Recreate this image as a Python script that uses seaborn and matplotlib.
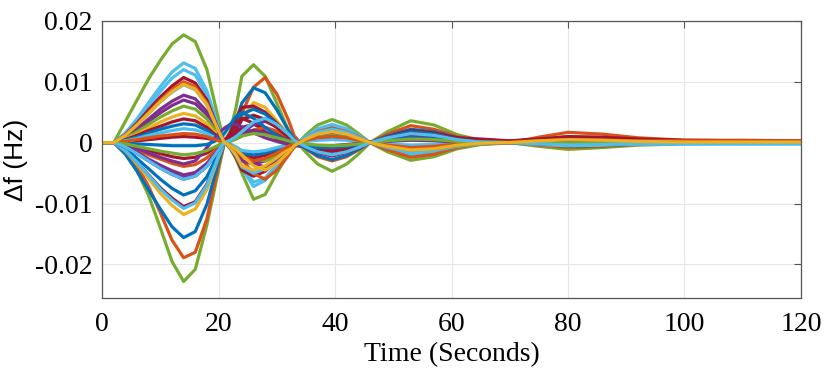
import numpy as np
import pandas as pd
import seaborn as sns
import matplotlib.pyplot as plt

# sample times (s) read along the time axis
t = [0, 2, 4, 6, 8, 10, 12, 14, 16, 18, 20, 21, 22, 23, 24, 26, 28, 30, 32, 33,
     35, 37, 39.5, 42, 44, 46, 49, 53, 57, 61, 65, 70, 75, 80, 86, 92, 100, 110, 120]

# frequency deviation of each bus, in units of 1e-4 Hz, read at the times above
dev01 = [0, 0, 35, 70, 105, 135, 162, 177, 166, 120, 38, 0, -10, -26, -50, -93, -85, -50, -18, -8,
         13, 29, 38, 29, 15, 0, -15, -29, -23, -10, -3, 0, 5, 10, 8, 4, 2, 2, 2]
dev02 = [0, 0, -14, -46, -87, -140, -195, -228, -208, -135, -45, 0, 19, 58, 109, 128, 109, 65, 20, 6,
         -16, -35, -47, -35, -19, 0, 18, 36, 29, 13, 4, 0, -6, -11, -8, -4, -2, -1, -1]
dev03 = [0, 0, -11, -38, -72, -115, -160, -189, -180, -125, -38, 0, 11, 27, 48, 91, 107, 80, 37, 11,
         -10, -23, -30, -23, -12, 0, 14, 28, 22, 10, 3, 0, -4, -8, -6, -3, -1, 0, 0]
dev04 = [0, 0, -19, -47, -78, -109, -138, -156, -146, -101, -31, 0, 12, 36, 65, 90, 82, 54, 20, 5,
         -10, -21, -28, -21, -11, 0, 11, 22, 18, 8, 2, 0, -3, -6, -5, -2, -1, 0, 0]
dev05 = [0, 0, 16, 39, 66, 92, 116, 131, 122, 85, 26, 0, -8, -22, -42, -72, -62, -38, -14, -4,
         10, 23, 30, 23, 12, 0, -10, -20, -16, -7, -2, 0, 3, 6, 5, 2, 0, -1, -1]
dev06 = [0, 0, 14, 36, 60, 84, 106, 120, 111, 78, 24, 0, -7, -20, -38, -65, -58, -36, -13, -3,
         9, 20, 26, 20, 10, 0, -9, -18, -14, -6, -2, 0, 3, 5, 4, 2, 0, 0, 0]
dev07 = [0, 0, 13, 32, 54, 75, 93, 107, 98, 70, 21, 0, -8, -25, -45, -55, -47, -30, -11, -3,
         7, 15, 20, 15, 8, 0, -8, -15, -12, -5, -2, 0, 3, 6, 5, 4, 3, 3, 3]
dev08 = [0, 0, 12, 30, 50, 70, 87, 100, 92, 65, 20, 0, -6, -15, -27, -51, -60, -45, -21, -6,
         8, 18, 24, 18, 10, 0, -12, -24, -19, -8, -2, 0, 9, 17, 14, 8, 4, 4, 3]
dev09 = [0, 0, 11, 29, 48, 67, 83, 95, 87, 62, 19, 0, -8, -22, -40, -50, -43, -28, -10, -3,
         8, 17, 22, 17, 9, 0, -8, -16, -13, -6, -2, 0, 2, 4, 3, 1, 0, -1, -1]
dev10 = [0, 0, -14, -35, -59, -83, -103, -118, -109, -77, -24, 0, 7, 20, 38, 66, 58, 36, 13, 3,
         -7, -15, -20, -15, -8, 0, 9, 18, 14, 6, 2, 0, -3, -5, -4, -2, -1, -1, -1]
dev11 = [0, 0, -13, -32, -53, -74, -91, -105, -97, -68, -21, 0, 16, 40, 58, 60, 50, 32, 12, 3,
         -8, -16, -22, -16, -9, 0, 10, 20, 16, 8, 6, 3, 6, 10, 9, 6, 4, 3, 3]
dev12 = [0, 0, -10, -26, -43, -60, -75, -86, -79, -56, -17, 0, 8, 25, 47, 55, 47, 30, 11, 3,
         -6, -14, -18, -14, -7, 0, 9, 18, 14, 6, 2, 0, 3, 5, 4, 2, 1, 1, 1]
dev13 = [0, 0, -13, -32, -54, -76, -94, -108, -99, -70, -22, 0, 7, 20, 38, 45, 38, 25, 9, 2,
         -5, -11, -15, -11, -6, 0, 5, 10, 8, 4, 1, 0, -2, -4, -3, -2, -2, -2, -2]
dev14 = [0, 0, 9, 23, 39, 55, 68, 78, 72, 51, 16, 0, -4, -10, -18, -34, -40, -30, -14, -4,
         4, 9, 12, 9, 5, 0, -5, -10, -8, -4, -1, 0, 2, 3, 2, 1, 1, 1, 1]
dev15 = [0, 0, 8, 21, 35, 49, 61, 70, 64, 46, 14, 0, -5, -16, -30, -35, -30, -19, -7, -2,
         5, 11, 15, 11, 6, 0, -4, -8, -6, -3, -1, 0, 1, 2, 2, 1, 0, 0, 0]
dev16 = [0, 0, 7, 18, 30, 42, 52, 60, 55, 39, 12, 0, -3, -8, -14, -26, -30, -23, -11, -3,
         4, 9, 12, 9, 5, 0, -6, -12, -10, -5, -2, -1, -2, -3, -2, -1, -1, -1, -1]
dev17 = [0, 0, 6, 14, 24, 34, 42, 48, 44, 31, 10, 0, -7, -20, -38, -45, -38, -25, -9, -2,
         4, 8, 10, 8, 4, 0, -4, -8, -6, -3, -1, 0, 1, 2, 2, 1, 0, 0, 0]
dev18 = [0, 0, 5, 12, 20, 27, 34, 39, 36, 25, 8, 0, -4, -11, -21, -25, -21, -14, -5, -1,
         3, 6, 8, 6, 3, 0, -3, -6, -5, -2, 0, 1, 2, 4, 3, 2, 2, 2, 2]
dev19 = [0, 0, 4, 9, 16, 22, 27, 31, 29, 20, 6, 0, -3, -9, -17, -20, -17, -11, -4, -1,
         4, 8, 10, 8, 4, 0, -4, -8, -6, -3, -1, 0, 2, 3, 2, 1, 1, 1, 1]
dev20 = [0, 0, 3, 7, 12, 16, 20, 23, 21, 15, 5, 0, -2, -7, -13, -15, -13, -8, -3, -1,
         2, 4, 5, 4, 2, 0, -2, -4, -3, -1, 0, 0, 1, 2, 1, 0, -1, -1, -1]
dev21 = [0, 0, 1, 3, 5, 7, 9, 10, 9, 7, 4, 3, 15, 30, 40, 32, 18, 6, -2, -4,
         -7, -9, -10, -8, -4, 0, 3, 6, 5, 2, 0, 0, -1, -2, -1, 0, 1, 2, 2]
dev22 = [0, 0, -3, -8, -13, -18, -23, -26, -24, -17, -5, 0, 5, 14, 25, 30, 25, 16, 6, 1,
         -4, -9, -12, -9, -5, 0, 8, 15, 12, 6, 4, 3, 5, 8, 7, 5, 3, 3, 3]
dev23 = [0, 0, -5, -12, -20, -27, -34, -39, -36, -25, -8, 0, 3, 6, 11, 21, 25, 19, 9, 3,
         -3, -6, -8, -6, -3, 0, 3, 6, 5, 2, 1, 0, -1, -2, -2, -1, 0, 0, 0]
dev24 = [0, 0, -6, -16, -27, -37, -46, -53, -49, -34, -11, 0, 4, 9, 16, 30, 35, 26, 12, 4,
         -4, -8, -10, -8, -4, 0, 4, 8, 6, 3, 1, 0, -2, -3, -2, -1, -1, -1, -1]
dev25 = [0, 0, -7, -18, -30, -42, -52, -60, -55, -39, -12, 0, 7, 20, 38, 45, 38, 25, 9, 2,
         -5, -11, -14, -11, -6, 0, 6, 12, 10, 5, 2, 1, 2, 3, 3, 2, 2, 2, 2]
dev26 = [0, 0, -7, -17, -29, -41, -50, -58, -53, -38, -12, 0, 3, 9, 17, 20, 17, 11, 4, 1,
         -7, -15, -20, -15, -8, 0, 5, 10, 8, 4, 1, 0, -1, -2, -2, -1, 0, 0, 0]
dev27 = [0, 0, -4, -10, -17, -24, -30, -35, -30, -8, 15, 24, 30, 30, 26, 16, 8, 2, -3, -5,
         -6, -6, -5, -3, -1, 0, 2, 4, 3, 1, 0, 0, -1, -1, -1, 0, 0, 0, 0]
dev28 = [0, 0, -1, -2, -3, -4, -5, -5, -5, -3, 5, 15, 30, 43, 50, 40, 25, 12, 2, -2,
         -6, -8, -8, -6, -3, 0, 4, 8, 6, 3, 1, 0, 1, 2, 1, 0, 0, 0, 0]
dev29 = [0, 0, 2, 5, 8, 11, 13, 15, 14, 10, 3, 0, -4, -12, -22, -30, -26, -17, -6, -1,
         4, 8, 10, 8, 4, 0, -4, -8, -6, -2, 0, 1, 3, 5, 4, 3, 3, 3, 3]
dev30 = [0, 0, -2, -6, -10, -14, -17, -20, -18, -13, -4, 0, 2, 6, 11, 15, 13, 8, 3, 1,
         -2, -4, -5, -4, -2, 0, 3, 6, 5, 2, 1, 0, -1, -1, -1, 0, 0, 0, 0]
dev31 = [0, 0, -7, -18, -30, -42, -52, -60, -55, -39, -12, 0, 4, 10, 18, 34, 40, 30, 14, 4,
         -7, -15, -20, -15, -8, 0, 8, 15, 12, 5, 1, 0, -2, -4, -3, -2, -2, -2, -2]
dev32 = [0, 0, 12, 29, 48, 67, 84, 96, 88, 62, 19, 0, -5, -11, -20, -38, -45, -34, -16, -5,
         6, 14, 18, 14, 7, 0, -6, -12, -10, -4, -1, 0, 3, 5, 4, 2, 1, 1, 1]

series = [dev01, dev02, dev03, dev04, dev05, dev06, dev07, dev08, dev09, dev10, dev11,
          dev12, dev13, dev14, dev15, dev16, dev17, dev18, dev19, dev20, dev21, dev22,
          dev23, dev24, dev25, dev26, dev27, dev28, dev29, dev30, dev31, dev32]

# MATLAB default colour order
b, o, y, p, g, c, r = '#0072BD', '#D95319', '#EDB120', '#7E2F8E', '#77AC30', '#4DBEEE', '#A2142F'
colours = [g, g, o, b, c, c, r, o, c, y, r, b, c, p, p, g, y, r, b, c, r, r,
           o, p, r, p, p, b, o, g, c, y]

xticks = [0, 20, 40, 60, 80, 100, 120]
yticks = [-0.02, -0.01, 0, 0.01, 0.02]
yticklabels = ['-0.02', '-0.01', '0', '0.01', '0.02']

rows = []
for i, vals in enumerate(series):
    for tt, v in zip(t, vals):
        rows.append(('bus%02d' % i, tt, v / 1e4))
df = pd.DataFrame(rows, columns=['bus', 'time', 'df'])
pal = {'bus%02d' % i: col for i, col in enumerate(colours)}

sns.set_style("white")
plt.rcParams['font.family'] = ['Liberation Serif', 'DejaVu Serif']
plt.rcParams['text.color'] = 'black'
plt.rcParams['axes.labelcolor'] = 'black'

fig = plt.figure(figsize=(8.3, 3.8), dpi=100)
ax = fig.add_axes([0.123, 0.216, 0.842, 0.729])
sns.lineplot(data=df, x='time', y='df', hue='bus', palette=pal, sort=False,
             estimator=None, legend=False, lw=2.3, ax=ax, solid_joinstyle='round')

ax.set_xlim(0, 120)
ax.set_ylim(-0.0255, 0.02)
ax.set_xticks(xticks)
ax.set_xticklabels([str(v) for v in xticks])
ax.set_yticks(yticks)
ax.set_yticklabels(yticklabels)
ax.grid(True, color='#e6e6e6', lw=0.8)
ax.set_axisbelow(True)
for s in ax.spines.values():
    s.set_visible(True)
    s.set_color('#555555')
    s.set_linewidth(0.9)
ax.tick_params(direction='in', top=True, right=True, length=5, width=0.8,
               color='#555555', labelcolor='black', labelsize=20, pad=7)
ax.tick_params(axis='x', pad=10)
ax.set_xlabel('Time (Seconds)', fontsize=20, labelpad=4)
ax.set_ylabel('Δf (Hz)', fontsize=19, family=['Liberation Sans', 'DejaVu Sans'])
ax.yaxis.set_label_coords(-0.106, 0.5)

fig.savefig('out.png', dpi=100)
